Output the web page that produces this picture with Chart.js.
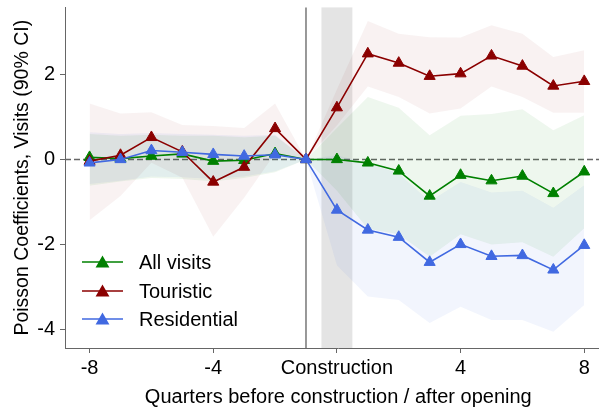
<!DOCTYPE html>
<html>
<head>
<meta charset="utf-8">
<script src="https://cdn.jsdelivr.net/npm/chart.js@4/dist/chart.umd.min.js"></script>
<style>
  html, body { margin: 0; padding: 0; background: #fff; overflow: hidden; }
  #wrap { width: 599px; height: 413px; overflow: hidden; }
</style>
</head>
<body>
<!-- the axes run a bit past the right edge of the picture, as in the cropped original -->
<div id="wrap"><canvas id="chart" width="619" height="413"></canvas></div>
<script>
'use strict';

// Quarter labels: 8 quarters before construction, the construction period, 8 after opening
const quarters = ['-8', '-7', '-6', '-5', '-4', '-3', '-2', '-1', 'Construction',
  '1', '2', '3', '4', '5', '6', '7', '8'];
const xTickIndex = [0, 4, 8, 12, 16];
const yTicks = [-4, -2, 0, 2];

// Point estimates
const allVisits = [0.05, 0.02, 0.08, 0.13, -0.04, -0.02, 0.14, 0, 0.0, -0.08, -0.27, -0.86, -0.37, -0.50, -0.39, -0.80, -0.29];
const touristic = [-0.04, 0.10, 0.52, 0.18, -0.53, -0.18, 0.73, 0, 1.22, 2.49, 2.27, 1.96, 2.02, 2.44, 2.20, 1.73, 1.84];
const residential = [-0.08, 0.0, 0.21, 0.17, 0.12, 0.08, 0.11, 0, -1.19, -1.66, -1.83, -2.42, -2.0, -2.28, -2.26, -2.60, -2.02];

// 90% confidence bounds
const allUpper = [0.60, 0.56, 0.58, 0.56, 0.56, 0.52, 0.56, 0, 0.74, 1.47, 1.22, 0.57, 1.03, 1.07, 1.18, 0.69, 1.04];
const allLower = [-0.62, -0.52, -0.44, -0.46, -0.52, -0.44, -0.30, 0, -0.74, -1.63, -1.76, -2.29, -1.76, -2.0, -1.95, -2.29, -1.62];
const touristicUpper = [1.32, 1.08, 1.11, 0.81, 0.79, 0.74, 1.32, 0, 1.65, 3.26, 2.96, 2.88, 2.87, 3.16, 2.96, 2.41, 2.57];
const touristicLower = [-1.43, -0.86, -0.08, -0.43, -1.82, -0.90, 0.14, 0, 0.80, 1.72, 1.47, 1.08, 1.20, 1.72, 1.47, 1.10, 1.10];
const residentialUpper = [0.64, 0.60, 0.62, 0.60, 0.58, 0.56, 0.58, 0, 0.10, -0.09, -0.33, -0.99, -0.53, -0.78, -0.74, -1.14, -0.61];
const residentialLower = [-0.58, -0.50, -0.40, -0.42, -0.46, -0.40, -0.28, 0, -2.49, -3.23, -3.31, -3.85, -3.47, -3.78, -3.78, -4.06, -3.43];

const FONT = '"Liberation Sans", Arial, Helvetica, sans-serif';

const series = [
  { label: 'All visits', values: allVisits, upper: allUpper, lower: allLower, color: '#008000', band: 'rgba(0,128,0,0.065)', order: 3 },
  { label: 'Touristic', values: touristic, upper: touristicUpper, lower: touristicLower, color: '#8b0000', band: 'rgba(139,0,0,0.05)', order: 2 },
  { label: 'Residential', values: residential, upper: residentialUpper, lower: residentialLower, color: '#4169e1', band: 'rgba(65,105,225,0.065)', order: 1 },
];

const toPoints = (arr) => arr.map((v, i) => ({ x: i, y: v }));

const datasets = [];
// confidence bands first, so the fill targets are plain indexes
series.forEach((s) => {
  const lowIdx = datasets.length;
  datasets.push({
    data: toPoints(s.lower), borderWidth: 0, pointRadius: 0, fill: false, order: 10,
  });
  datasets.push({
    data: toPoints(s.upper), borderWidth: 0, pointRadius: 0,
    backgroundColor: s.band, fill: { target: lowIdx }, order: 10,
  });
});
series.forEach((s) => {
  datasets.push({
    label: s.label,
    data: toPoints(s.values),
    borderColor: s.color,
    backgroundColor: s.color,
    borderWidth: 1.6,
    pointStyle: 'triangle',
    pointRadius: 6.4,
    pointBorderWidth: 1,
    pointBorderColor: s.color,
    pointBackgroundColor: s.color,
    tension: 0,
    fill: false,
    order: s.order,
  });
});

// construction shading, reference line and zero line
const guides = {
  id: 'guides',
  beforeDatasetsDraw(chart) {
    const { ctx, chartArea: a, scales: { x, y } } = chart;
    ctx.save();
    ctx.fillStyle = 'rgba(128,128,128,0.21)';
    const x0 = x.getPixelForValue(7.5);
    const x1 = x.getPixelForValue(8.5);
    ctx.fillRect(x0, a.top, x1 - x0, a.bottom - a.top);

    ctx.strokeStyle = '#7f7f7f';
    ctx.lineWidth = 1.6;
    const xv = x.getPixelForValue(7);
    ctx.beginPath();
    ctx.moveTo(xv, a.top);
    ctx.lineTo(xv, a.bottom);
    ctx.stroke();

    ctx.strokeStyle = '#666';
    ctx.lineWidth = 1.4;
    ctx.setLineDash([6, 3]);
    const y0 = y.getPixelForValue(0);
    ctx.beginPath();
    ctx.moveTo(a.left, y0);
    ctx.lineTo(a.right, y0);
    ctx.stroke();
    ctx.restore();
  },
};

// matplotlib-like legend: line with marker, then label
const lineLegend = {
  id: 'lineLegend',
  afterDraw(chart) {
    const { ctx } = chart;
    const rows = [262, 291, 319];
    ctx.save();
    series.forEach((s, i) => {
      const yy = rows[i];
      ctx.strokeStyle = s.color;
      ctx.lineWidth = 1.6;
      ctx.beginPath();
      ctx.moveTo(82, yy);
      ctx.lineTo(123, yy);
      ctx.stroke();
      ctx.fillStyle = s.color;
      Chart.helpers.drawPoint(ctx, { pointStyle: 'triangle', radius: 6.4, borderWidth: 1 }, 102.5, yy + 1.5);
      ctx.fillStyle = '#000';
      ctx.font = '20px ' + FONT;
      ctx.textBaseline = 'middle';
      ctx.textAlign = 'left';
      ctx.fillText(s.label, 139, yy + 1);
    });
    ctx.restore();
  },
};

new Chart(document.getElementById('chart'), {
  type: 'line',
  data: { datasets },
  plugins: [guides, lineLegend],
  options: {
    responsive: false,
    animation: false,
    layout: { padding: { top: 7, right: 0, left: 0, bottom: 0 } },
    plugins: {
      legend: { display: false },
      tooltip: { enabled: false },
      filler: { propagate: false },
    },
    scales: {
      x: {
        type: 'linear',
        min: -0.795,
        max: 16.885,
        afterBuildTicks: (axis) => { axis.ticks = xTickIndex.map((v) => ({ value: v })); },
        afterFit: (axis) => {
          axis.height = 65;
          axis.paddingLeft = 0;
          axis.paddingRight = 0;
        },
        ticks: {
          autoSkip: false,
          maxRotation: 0,
          padding: 3,
          color: '#000',
          font: { family: FONT, size: 20 },
          callback: (v) => quarters[v],
        },
        grid: { drawOnChartArea: false, tickLength: 5, color: '#666', lineWidth: 1 },
        border: { color: '#666', width: 1 },
        title: {
          display: true,
          text: 'Quarters before construction / after opening',
          color: '#000',
          font: { family: FONT, size: 20 },
          padding: { top: 0, bottom: 4 },
        },
      },
      y: {
        min: -4.44,
        max: 3.58,
        afterBuildTicks: (axis) => { axis.ticks = yTicks.map((v) => ({ value: v })); },
        afterFit: (axis) => {
          axis.width = 65;
          axis.paddingTop = 0;
          axis.paddingBottom = 0;
        },
        ticks: {
          padding: 5,
          color: '#000',
          font: { family: FONT, size: 20 },
          callback: (v) => String(v),
        },
        grid: { drawOnChartArea: false, tickLength: 5, color: '#666', lineWidth: 1 },
        border: { color: '#666', width: 1 },
        title: {
          display: true,
          text: 'Poisson Coefficients, Visits (90% CI)',
          color: '#000',
          font: { family: FONT, size: 19.5 },
          padding: { top: 11, bottom: 0 },
        },
      },
    },
  },
});
</script>
</body>
</html>
